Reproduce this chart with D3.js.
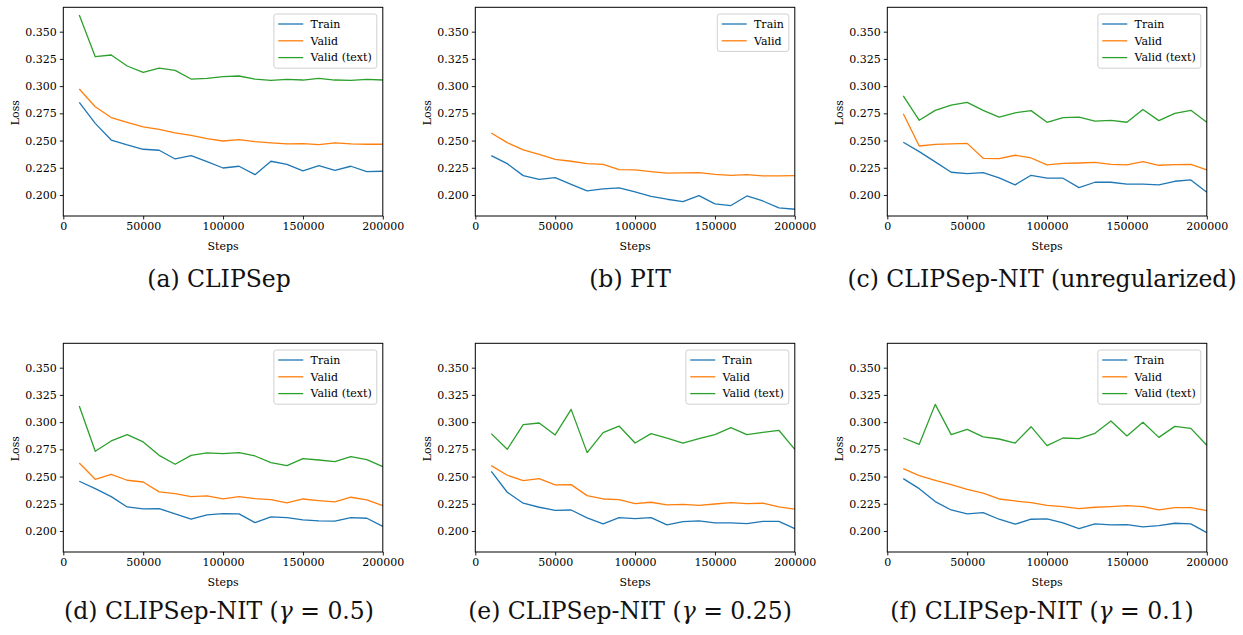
<!DOCTYPE html>
<html><head><meta charset="utf-8">
<script src="https://cdn.jsdelivr.net/npm/d3@7"></script>
<style>body{margin:0;background:#fff}svg{display:block}</style>
</head><body>
<svg id="chart" width="1243" height="635"></svg>
<script>
// ---------- data ----------
const steps = [10000,20000,30000,40000,50000,60000,70000,80000,90000,100000,110000,120000,130000,140000,150000,160000,170000,180000,190000,200000];
const xTickValues = [0,50000,100000,150000,200000];
const yTickValues = [0.200,0.225,0.250,0.275,0.300,0.325,0.350];
const seriesNames = ["Train","Valid","Valid (text)"];
const seriesColors = ["#1f77b4","#ff7f0e","#2ca02c"];
const captions = ["(a) CLIPSep","(b) PIT","(c) CLIPSep-NIT (unregularized)","(d) CLIPSep-NIT (γ = 0.5)","(e) CLIPSep-NIT (γ = 0.25)","(f) CLIPSep-NIT (γ = 0.1)"];

const aTrain = [0.2851,0.2658,0.2505,0.2460,0.2420,0.2411,0.2331,0.2362,0.2307,0.2248,0.2264,0.2187,0.2310,0.2282,0.2221,0.2270,0.2227,0.2264,0.2215,0.2218];
const aValid = [0.2974,0.2811,0.2711,0.2668,0.2625,0.2603,0.2570,0.2548,0.2518,0.2496,0.2509,0.2490,0.2478,0.2469,0.2472,0.2463,0.2478,0.2469,0.2466,0.2466];
const aValidText = [0.3653,0.3270,0.3286,0.3185,0.3127,0.3166,0.3145,0.3065,0.3072,0.3087,0.3093,0.3065,0.3053,0.3062,0.3056,0.3072,0.3056,0.3053,0.3062,0.3056];

const bTrain = [0.2362,0.2288,0.2178,0.2144,0.2160,0.2098,0.2037,0.2056,0.2065,0.2028,0.1988,0.1961,0.1939,0.1994,0.1918,0.1903,0.1991,0.1945,0.1881,0.1869];
const bValid = [0.2570,0.2481,0.2414,0.2374,0.2328,0.2310,0.2288,0.2282,0.2233,0.2230,0.2215,0.2200,0.2203,0.2206,0.2190,0.2181,0.2187,0.2175,0.2175,0.2178];

const cTrain = [0.2484,0.2398,0.2304,0.2209,0.2196,0.2206,0.2157,0.2093,0.2181,0.2154,0.2154,0.2068,0.2117,0.2117,0.2099,0.2099,0.2093,0.2126,0.2138,0.2025];
const cValid = [0.2747,0.2450,0.2465,0.2470,0.2474,0.2337,0.2334,0.2365,0.2340,0.2276,0.2291,0.2294,0.2300,0.2282,0.2276,0.2307,0.2273,0.2279,0.2282,0.2230];
const cValidText = [0.2910,0.2686,0.2777,0.2825,0.2850,0.2777,0.2716,0.2755,0.2775,0.2668,0.2710,0.2715,0.2678,0.2685,0.2668,0.2785,0.2683,0.2750,0.2778,0.2668];

const dTrain = [0.2457,0.2389,0.2316,0.2221,0.2203,0.2206,0.2157,0.2108,0.2148,0.2160,0.2157,0.2077,0.2129,0.2123,0.2102,0.2093,0.2090,0.2123,0.2117,0.2043];
const dValid = [0.2625,0.2475,0.2521,0.2466,0.2450,0.2359,0.2343,0.2316,0.2322,0.2294,0.2316,0.2297,0.2288,0.2258,0.2294,0.2279,0.2267,0.2310,0.2285,0.2233];
const dValidText = [0.3148,0.2732,0.2827,0.2885,0.2818,0.2695,0.2613,0.2695,0.2717,0.2711,0.2720,0.2689,0.2628,0.2600,0.2665,0.2652,0.2637,0.2683,0.2655,0.2591];

const eTrain = [0.2548,0.2356,0.2255,0.2218,0.2190,0.2193,0.2120,0.2065,0.2123,0.2114,0.2123,0.2056,0.2086,0.2092,0.2074,0.2074,0.2068,0.2089,0.2089,0.2022];
const eValid = [0.2600,0.2512,0.2463,0.2481,0.2423,0.2426,0.2325,0.2294,0.2288,0.2251,0.2264,0.2239,0.2245,0.2236,0.2248,0.2261,0.2251,0.2255,0.2221,0.2200];
const eValidText = [0.2894,0.2750,0.2977,0.2992,0.2882,0.3117,0.2720,0.2903,0.2964,0.2808,0.2894,0.2854,0.2808,0.2848,0.2885,0.2949,0.2885,0.2906,0.2925,0.2750];

const fTrain = [0.2481,0.2389,0.2270,0.2193,0.2157,0.2169,0.2108,0.2062,0.2108,0.2111,0.2074,0.2022,0.2065,0.2056,0.2059,0.2037,0.2050,0.2071,0.2065,0.1985];
const fValid = [0.2573,0.2509,0.2466,0.2426,0.2383,0.2347,0.2294,0.2276,0.2261,0.2236,0.2224,0.2206,0.2218,0.2224,0.2233,0.2224,0.2193,0.2215,0.2215,0.2187];
const fValidText = [0.2854,0.2796,0.3163,0.2885,0.2934,0.2864,0.2845,0.2808,0.2958,0.2784,0.2854,0.2848,0.2897,0.3010,0.2873,0.2998,0.2860,0.2961,0.2943,0.2787];

const panelSeries = [
  [aTrain,aValid,aValidText],
  [bTrain,bValid],
  [cTrain,cValid,cValidText],
  [dTrain,dValid,dValidText],
  [eTrain,eValid,eValidText],
  [fTrain,fValid,fValidText]
];

// ---------- layout ----------
const colLeft = [63.3, 475.3, 887.3];
const plotW = 319.5;
const rowTop = [7.3, 343.3];
const plotH = 208.7;
const captionX = [219, 630, 1042];
const captionY = [287, 619];
const FONT = "'DejaVu Serif', serif";

const svg = d3.select("#chart");

panelSeries.forEach((series, i) => {
  const col = i % 3, row = Math.floor(i / 3);
  const g = svg.append("g").attr("transform", `translate(${colLeft[col]},${rowTop[row]})`);
  const x = d3.scaleLinear().domain([0,200000]).range([0,plotW]);
  const y = d3.scaleLinear().domain([0.1807,0.3724]).range([plotH,0]);

  // lines
  const line = d3.line().x((d,k)=>x(steps[k])).y(d=>y(d));
  series.forEach((vals, s) => {
    g.append("path").datum(vals).attr("d", line)
      .attr("fill","none").attr("stroke",seriesColors[s]).attr("stroke-width",1.3)
      .attr("stroke-linejoin","round");
  });

  // axes
  const xa = g.append("g").attr("transform",`translate(0,${plotH})`)
    .call(d3.axisBottom(x).tickValues(xTickValues).tickFormat(d3.format("d")).tickSizeOuter(0).tickSize(3.5).tickPadding(3));
  const ya = g.append("g")
    .call(d3.axisLeft(y).tickValues(yTickValues).tickFormat(d3.format(".3f")).tickSizeOuter(0).tickSize(3.5).tickPadding(3));
  [xa,ya].forEach(a=>{
    a.select(".domain").remove();
    a.selectAll("line").attr("stroke","#000").attr("stroke-width",0.9);
    a.selectAll("text").attr("font-family",FONT).attr("font-size",11).attr("fill","#000");
  });

  // frame
  g.append("rect").attr("x",0).attr("y",0).attr("width",plotW).attr("height",plotH)
    .attr("fill","none").attr("stroke","#000").attr("stroke-width",1);

  // axis labels
  g.append("text").attr("x",plotW/2).attr("y",plotH+34.5).attr("text-anchor","middle")
    .attr("font-family",FONT).attr("font-size",11).text("Steps");
  g.append("text").attr("transform",`translate(${-44},${plotH/2+1}) rotate(-90)`)
    .attr("text-anchor","middle").attr("font-family",FONT).attr("font-size",11).text("Loss");

  // legend
  const lg = g.append("g");
  const rowsH = 16.8;
  const texts = [];
  series.forEach((v,s)=>{
    const t = lg.append("text").attr("font-family",FONT).attr("font-size",11)
      .attr("dy","0.35em").text(seriesNames[s]);
    texts.push(t);
  });
  const maxW = d3.max(texts, t=>t.node().getComputedTextLength());
  const boxW = 4.4 + 25 + 7.3 + maxW + 5;
  const boxH = 10 + (series.length-1)*rowsH + 10.6;
  const bx = plotW - 6 - boxW, by = 6.7;
  lg.insert("rect","text").attr("x",bx).attr("y",by).attr("width",boxW).attr("height",boxH)
    .attr("rx",2.5).attr("fill","#fff").attr("fill-opacity",0.8)
    .attr("stroke","#d0d0d0").attr("stroke-width",1);
  series.forEach((v,s)=>{
    const cy = by + 10 + s*rowsH;
    lg.append("line").attr("x1",bx+4.4).attr("x2",bx+29.4).attr("y1",cy).attr("y2",cy)
      .attr("stroke",seriesColors[s]).attr("stroke-width",1.3);
    texts[s].attr("x",bx+36.7).attr("y",cy);
  });

  // caption
  const cap = svg.append("text").attr("x",captionX[col]).attr("y",captionY[row])
    .attr("text-anchor","middle").attr("font-family",FONT).attr("font-size",23.5).attr("fill","#111");
  const parts = captions[i].split("γ");
  parts.forEach((p,k)=>{
    if(k>0) cap.append("tspan").attr("font-style","italic").text("γ");
    cap.append("tspan").text(p);
  });
});
</script>
</body></html>
